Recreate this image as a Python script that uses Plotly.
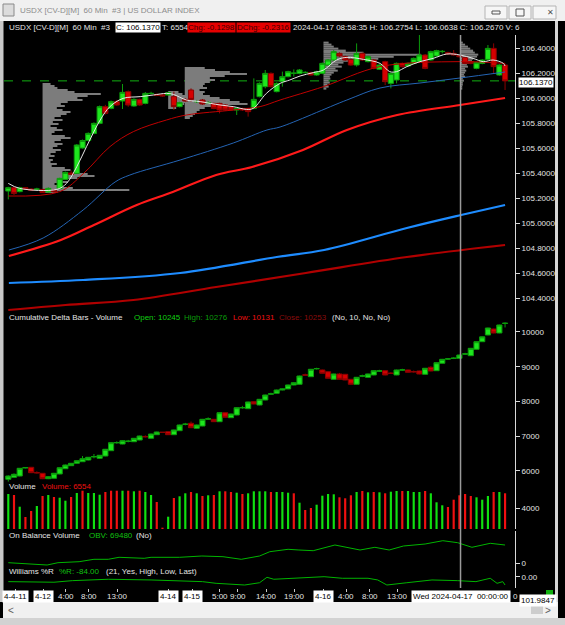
import plotly.graph_objects as go

# ---------------- data ----------------
bars = list(range(88))

price_open = [105.256,105.283,105.251,105.283,105.272,105.268,105.269,105.248,105.262,105.277,
              105.349,105.400,105.397,105.600,105.660,105.717,105.797,105.931,105.917,105.971,
              105.976,106.051,105.936,105.989,105.957,106.035,106.029,106.026,106.024,106.011,
              105.931,105.989,106.064,105.970,105.984,105.962,105.957,105.957,105.944,105.931,
              105.904,105.917,105.917,105.917,106.011,106.091,106.197,106.051,106.131,106.171,
              106.197,106.197,106.203,106.203,106.184,106.197,106.264,106.304,106.357,106.331,
              106.309,106.264,106.357,106.291,106.304,106.230,106.291,106.117,106.144,106.277,
              106.256,106.277,106.291,106.344,106.304,106.336,106.371,106.363,106.357,106.340,
              106.323,106.291,106.237,106.277,106.309,106.397,106.184,106.264]
price_high = [105.290,105.291,105.290,105.288,105.278,105.282,105.272,105.285,105.268,105.362,
              105.412,105.420,105.632,105.668,105.725,105.805,105.940,105.945,105.980,105.985,
              106.112,106.060,105.998,105.995,106.048,106.050,106.036,106.032,106.050,106.051,
              105.970,105.998,106.077,105.985,105.992,105.975,105.962,105.962,105.950,105.936,
              105.925,105.922,105.922,106.157,106.125,106.224,106.205,106.125,106.211,106.218,
              106.229,106.232,106.215,106.210,106.218,106.284,106.312,106.384,106.365,106.338,
              106.315,106.437,106.364,106.338,106.312,106.270,106.298,106.204,106.284,106.284,
              106.284,106.324,106.531,106.352,106.378,106.386,106.384,106.370,106.384,106.346,
              106.330,106.298,106.290,106.311,106.424,106.437,106.271,106.277]
price_low = [105.189,105.224,105.245,105.266,105.258,105.260,105.240,105.245,105.244,105.270,
             105.345,105.383,105.392,105.595,105.655,105.710,105.790,105.868,105.910,105.938,
             105.912,105.930,105.930,105.938,105.950,106.028,106.015,106.010,106.020,105.904,
             105.925,105.970,105.970,105.960,105.945,105.955,105.910,105.877,105.898,105.898,
             105.864,105.896,105.851,105.910,106.005,106.077,106.085,106.045,106.091,106.165,
             106.171,106.190,106.195,106.178,106.178,106.190,106.258,106.298,106.330,106.298,
             106.258,106.251,106.298,106.285,106.230,106.224,106.104,106.077,106.117,106.244,
             106.250,106.270,106.285,106.230,106.298,106.330,106.357,106.345,106.338,106.324,
             106.270,106.270,106.230,106.270,106.302,106.197,106.178,106.064]
price_close = [105.283,105.237,105.283,105.270,105.262,105.272,105.243,105.277,105.250,105.357,
               105.405,105.390,105.624,105.660,105.717,105.797,105.931,105.877,105.971,105.944,
               106.045,105.944,105.989,105.944,106.037,106.037,106.021,106.016,106.043,105.931,
               105.963,105.976,105.989,105.972,105.952,105.963,105.917,105.904,105.904,105.904,
               105.917,105.904,105.891,105.989,106.117,106.197,106.091,106.117,106.171,106.211,
               106.199,106.224,106.205,106.184,106.211,106.277,106.304,106.371,106.336,106.304,
               106.264,106.357,106.304,106.331,106.237,106.264,106.131,106.197,106.277,106.251,
               106.277,106.317,106.344,106.237,106.371,106.379,106.373,106.352,106.344,106.330,
               106.277,106.277,106.283,106.304,106.397,106.251,106.264,106.137]

cd_open = [5755,5812,5850,6080,6101,5950,5928,5772,5784,5908,6060,6147,6216,6262,6311,6400,6360,6426,
           6579,6805,6772,6845,6838,6887,6990,6936,7040,7112,7127,7040,7156,7335,7369,7225,7291,7488,
           7484,7415,7674,7530,7608,7813,7790,7991,7896,8040,8208,8233,8328,8360,8473,8493,8765,8712,
           8938,8905,8856,8637,8790,8781,8637,8493,8728,8694,8761,8872,8885,8814,8761,8901,8905,8860,
           8876,8781,8983,8885,9098,9218,9238,9242,9362,9317,9501,9720,9914,10086,9971,10245]
cd_high = [5870,5925,6080,6100,6110,5985,5935,5845,5940,6100,6180,6225,6300,6426,6398,6484,6455,6630,
           6820,6850,6880,6890,6945,7012,7020,7070,7128,7118,7135,7185,7330,7380,7420,7330,7494,7540,
           7492,7684,7682,7646,7828,7870,7992,8000,8070,8194,8250,8338,8370,8483,8549,8742,8800,8935,
           8970,8915,8866,8800,8820,8790,8645,8704,8770,8800,8895,8910,8893,8840,8915,8940,8913,8890,
           8884,8964,9010,9125,9223,9250,9270,9347,9400,9540,9730,9870,10125,10094,10212,10276]
cd_low = [5690,5800,5840,6070,5935,5920,5760,5760,5775,5900,6050,6140,6205,6255,6300,6360,6350,6418,
          6570,6780,6765,6820,6830,6880,6960,6928,7032,7100,7032,7032,7148,7310,7235,7218,7284,7470,
          7408,7408,7535,7522,7600,7790,7782,7918,7888,8032,8190,8225,8320,8352,8465,8485,8740,8704,
          8920,8802,8658,8629,8629,8609,8485,8485,8700,8686,8753,8850,8753,8790,8753,8880,8831,8830,
          8782,8773,8868,8877,9090,9200,9220,9234,9340,9309,9493,9712,9906,9963,9963,10131]
cd_close = [5850,5899,6072,6095,5945,5940,5772,5830,5928,6089,6167,6216,6291,6349,6389,6410,6447,6620,
            6810,6815,6867,6855,6936,7003,6980,7060,7118,7106,7040,7176,7320,7345,7242,7320,7484,7498,
            7415,7674,7542,7637,7818,7823,7983,7925,8060,8184,8218,8328,8360,8473,8539,8732,8755,8925,
            8946,8810,8666,8790,8637,8617,8493,8694,8736,8790,8885,8880,8761,8806,8905,8909,8839,8852,
            8790,8954,8876,9115,9213,9226,9246,9337,9370,9530,9720,9860,10115,9971,10202,10253]

volume = [6430,6257,4226,2438,3479,4347,6083,6257,5910,5788,5267,5910,6604,7003,6604,6604,6309,6778,
          7003,7003,7003,7003,6899,7003,6778,6257,5042,580,2490,5736,6031,6552,6778,6552,6083,6205,
          6257,6899,6899,6778,6656,6430,6552,6899,6899,6899,6778,6778,6778,6656,6552,4920,3653,4000,
          4573,6135,6430,6378,5858,5684,6205,6778,6951,6726,6778,6726,6552,6830,6951,6951,6951,6778,
          6778,6951,6552,4990,4469,4174,5441,6205,6430,6083,5858,5441,6083,6778,6778,6554]
volume_up = "GRGRRGRGRGGRGRGGGRRRGRGRGGRRGRGGRGRGRGRRGRGGGGRGGGRGRRGGGGRRRGRGRGRGGRGGGRGGGRRRRRGGGRGR"

obv_k = [0,2.3,6.8,8.7,12.4,15,17.5,19.4,23.8,25,30,33.9,37.6,40.8,44,45.8,49,50.9,53.4,57.2,
         59.1,61.6,64.2,66.7,69.2,73,76.1,78.7,81.2,84.4,87]
obv_v = [1158,-1158,-7720,1158,5018,14282,14282,22000,18142,22000,22000,27020,24318,14282,27020,
         43618,52882,50180,47478,69480,60602,50180,60602,50180,65620,73340,86078,78358,60602,76042,69480]

wr_k = [0,8,11.2,17.5,25,34,36.4,41.4,44,45.3,46.5,49,55.3,58.5,63,64.7,66.3,69.8,74.2,78.7,
        81.9,84.4,85.6,86.6,87]
wr_v = [-50,-56,-40,-26,-33,-50,-67,-84,-61,-6,-26,-20,0,-16,-16,-33,-84,-61,-33,-40,-50,-16,-67,-50,-84]

ma_fast_k = [0,2.0,8.5,10.2,12.0,13.7,16.1,17.8,20.1,23.1,25.4,27.7,28.9,31.2,33.6,37.1,39.4,41.7,42.9,
             45.2,47.6,49.3,51.1,53.4,55.2,57.5,59.3,62.2,65.1,66.8,68.0,69.8,72.1,74.4,76.8,79.1,
             81.4,83.2,84.9,86.7,87]
ma_fast_v = [105.317,105.277,105.269,105.317,105.451,105.611,105.824,105.931,105.997,106.011,106.024,
             106.037,106.029,105.984,105.971,105.944,105.931,105.909,105.917,106.037,106.117,106.144,
             106.176,106.203,106.224,106.304,106.325,106.309,106.277,106.211,106.211,106.251,106.291,
             106.317,106.352,106.344,106.317,106.291,106.304,106.277,106.256]
ma_red_thin_k = [0,9,13.2,17.8,21.9,27.7,31.2,39.4,44.1,47.6,55.2,65.1,79.1,87]
ma_red_thin_v = [105.216,105.251,105.397,105.611,105.731,105.824,105.864,105.904,105.931,105.984,
                 106.091,106.251,106.291,106.277]
ma_blue_thin_k = [0.1,6.1,13.1,18.7,21.3,30.1,39.4,45.3,47.6,59.3,65.1,72.1,79.1,87]
ma_blue_thin_v = [104.784,104.88,105.104,105.328,105.384,105.504,105.64,105.744,105.768,105.984,
                  106.08,106.12,106.16,106.208]
ma_red_k = [0.1,9.2,15,22.5,28.8,36.4,42.7,51.6,59.3,68.1,79.1,87]
ma_red_v = [104.736,104.864,104.984,105.144,105.248,105.384,105.448,105.584,105.744,105.864,105.944,106.0]
ma_blue_k = [0.1,13.1,30.1,47,55.3,69.8,79.3,87]
ma_blue_v = [104.52,104.544,104.6,104.728,104.784,104.96,105.064,105.144]
ma_dred_k = [0,10,21.9,36.4,52.1,69.8,87]
ma_dred_v = [104.304,104.344,104.384,104.488,104.6,104.728,104.824]

prof1_base = 6.0
prof1_lvl = [106.112,106.096,106.080,106.064,106.048,106.032,106.016,106.000,105.984,105.968,105.952,
             105.936,105.920,105.904,105.888,105.872,105.856,105.840,105.824,105.808,105.792,105.776,
             105.760,105.744,105.728,105.712,105.696,105.680,105.664,105.648,105.632,105.616,105.600,
             105.584,105.568,105.552,105.536,105.520,105.504,105.488,105.472,105.456,105.440,105.424,
             105.408,105.392,105.376,105.360,105.344,105.328,105.312,105.296,105.280,105.264,105.248]
prof1_len = [1.4,2.1,2.6,4.4,5.6,10.2,7.9,6.1,7.0,4.4,3.2,3.9,2.5,3.5,4.9,4.2,3.2,2.1,3.5,1.8,
             2.8,1.4,2.5,3.5,2.1,1.6,3.9,4.9,3.2,2.1,3.5,2.6,1.8,3.2,2.3,1.4,2.1,1.1,1.8,1.4,
             2.5,1.6,3.9,4.9,3.5,7.9,9.1,6.1,3.2,4.4,2.1,3.5,5.3,15.2,2.6]
prof2b_base = 28.0
prof2b_lvl = [106.048,106.032,106.016,106.000,105.984,105.968,105.952,105.936,105.920]
prof2b_len = [1.8,2.5,3.0,3.0,2.6,3.0,2.8,2.1,1.4]
prof2_base = 30.9
prof2_lvl = [106.240,106.224,106.208,106.192,106.176,106.160,106.144,106.128,106.112,106.096,106.080,
             106.064,106.048,106.032,106.016,106.000,105.984,105.968,105.952,105.936,105.920,105.904,
             105.888,105.872,105.856,105.840]
prof2_len = [3.5,5.3,7.9,10.9,7.0,4.4,5.3,4.4,3.5,3.2,3.9,2.6,3.5,3.2,4.4,6.1,7.9,9.6,11.0,5.3,
             3.5,2.6,2.1,1.8,1.4,0.9]
prof3_base = 55.2
prof34_lvl = [106.443,106.427,106.411,106.395,106.379,106.363,106.347,106.331,106.315,106.299,106.283,
              106.267,106.251,106.235,106.219,106.203,106.187,106.171,106.155,106.139,106.123,106.107,
              106.091,106.075]
prof3_len = [0.9,1.4,1.8,2.6,3.9,7.0,17.0,12.3,9.6,6.1,3.5,2.6,3.2,2.1,2.5,1.8,1.4,1.1,1.2,0.9,
             1.1,0.7,0.9,0.5]
prof4_base = 79.1
prof4_len = [0.5,0.9,1.4,1.8,2.3,2.6,3.2,3.0,2.3,2.1,1.6,1.2,1.4,0.9,1.1,0.9,0.7,0.9,0.5,0.7,
             0.5,0.5,0.4,0.4]

price_ticks = [104.4,104.6,104.8,105.0,105.2,105.4,105.6,105.8,106.0,106.2,106.4]
cd_ticks = [6000,7000,8000,9000,10000]
vol_ticks = [4000]
obv_ticks = [0]
wr_ticks = [0]

time_pos = [1.2,6.1,10.1,14.1,19.1,28.1,32.2,37.0,40.2,45.3,50.2,55.2,59.2,63.3,68.2]
time_txt = ['4-4-11','4-12','4:00','8:00','13:00','4-14','4-15','5:00','9:00','14:00','19:00',
            '4-16','4:00','8:00','13:00']
time_boxed = [1,1,0,0,0,1,1,0,0,0,0,1,0,0,0]
cursor_bar = 79.2
cursor_label = 'Wed 2024-04-17\u00a0\u00a000:00:00'
cursor_price_label = '101.9847'

# ---------------- geometry helpers ----------------
W, H = 565, 625
ML, MR, MT, MB = 4, 50, 35, 37
PW, PH = W - ML - MR, H - MT - MB
def fx(x): return (x - ML) / PW
def fy(y): return (H - MB - y) / PH

FONT = 'Liberation Sans'
GREEN_F, GREEN_L = '#1ee61e', '#0c9c0c'
RED_F, RED_L = '#d60000', '#8c0000'

fig = go.Figure()

# volume profiles
for base, lvl, ln in [(prof1_base, prof1_lvl, prof1_len), (prof2b_base, prof2b_lvl, prof2b_len),
                      (prof2_base, prof2_lvl, prof2_len), (prof3_base, prof34_lvl, prof3_len),
                      (prof4_base, prof34_lvl, prof4_len)]:
    fig.add_trace(go.Bar(orientation='h', y=lvl, x=ln, base=base, width=0.016,
                         marker=dict(color='#7c7c7c', line=dict(width=0)),
                         xaxis='x', yaxis='y', hoverinfo='skip'))

# price candles
fig.add_trace(go.Candlestick(x=bars, open=price_open, high=price_high, low=price_low, close=price_close,
                             xaxis='x', yaxis='y', whiskerwidth=0,
                             increasing=dict(fillcolor=GREEN_F, line=dict(color=GREEN_L, width=1)),
                             decreasing=dict(fillcolor=RED_F, line=dict(color=RED_L, width=1)),
                             hoverinfo='skip'))

# moving averages
for kk, vv, col, w in [(ma_dred_k, ma_dred_v, '#b00000', 2.2), (ma_blue_k, ma_blue_v, '#1e8cff', 2.2),
                       (ma_red_k, ma_red_v, '#ff1a1a', 2.2), (ma_blue_thin_k, ma_blue_thin_v, '#2464b4', 1),
                       (ma_red_thin_k, ma_red_thin_v, '#c00000', 1), (ma_fast_k, ma_fast_v, '#e6e6e6', 1)]:
    fig.add_trace(go.Scatter(x=kk, y=vv, mode='lines', line=dict(color=col, width=w, shape='spline'),
                             xaxis='x', yaxis='y', hoverinfo='skip'))

# cumulative delta candles
fig.add_trace(go.Candlestick(x=bars, open=cd_open, high=cd_high, low=cd_low, close=cd_close,
                             xaxis='x', yaxis='y2', whiskerwidth=0,
                             increasing=dict(fillcolor=GREEN_F, line=dict(color=GREEN_L, width=1)),
                             decreasing=dict(fillcolor=RED_F, line=dict(color=RED_L, width=1)),
                             hoverinfo='skip'))

# volume
fig.add_trace(go.Bar(x=bars, y=volume, width=0.38, xaxis='x', yaxis='y3',
                     marker=dict(color=['#10e010' if c == 'G' else '#f01010' for c in volume_up],
                                 line=dict(width=0)), hoverinfo='skip'))
# OBV
fig.add_trace(go.Scatter(x=obv_k, y=obv_v, mode='lines', line=dict(color='#00b400', width=1),
                         xaxis='x', yaxis='y4', hoverinfo='skip'))
# Williams %R
fig.add_trace(go.Scatter(x=wr_k, y=wr_v, mode='lines', line=dict(color='#00b400', width=1),
                         xaxis='x', yaxis='y5', hoverinfo='skip'))

yax = dict(side='right', anchor='x', showgrid=False, zeroline=False, showline=True, linecolor='#d8d8d8',
           linewidth=1, ticks='outside', ticklen=4, tickcolor='#d8d8d8',
           tickfont=dict(family=FONT, size=8, color='#e4e4e4'), fixedrange=True)

fig.update_layout(
    width=W, height=H, margin=dict(l=ML, r=MR, t=MT, b=MB, pad=0),
    paper_bgcolor='black', plot_bgcolor='black', showlegend=False, barmode='overlay',
    boxgap=0.05, boxgroupgap=0.05,
    hovermode=False, font=dict(family=FONT, size=8, color='#e4e4e4'),
    xaxis=dict(domain=[0, 1], range=[-0.753, 88.74], anchor='y5', showgrid=False, zeroline=False,
               showticklabels=False, ticks='outside', ticklen=3, tickcolor='#c8c8c8',
               tickvals=time_pos, rangeslider=dict(visible=False), showline=False),
    yaxis=dict(domain=[fy(312), 1], range=[104.288, 106.504], tickvals=price_ticks,
               ticktext=['%.4f' % t for t in price_ticks], **yax),
    yaxis2=dict(domain=[fy(482), fy(312)], range=[5677, 10576], tickvals=cd_ticks,
                ticktext=[str(t) for t in cd_ticks], **yax),
    yaxis3=dict(domain=[fy(529), fy(482)], range=[354, 8514], tickvals=vol_ticks,
                ticktext=[str(t) for t in vol_ticks], **yax),
    yaxis4=dict(domain=[fy(568), fy(531)], range=[-19300, 123520], tickvals=obv_ticks,
                ticktext=['0'], **yax),
    yaxis5=dict(domain=[0, fy(568)], range=[-114.4, 88], tickvals=wr_ticks,
                ticktext=['0.00'], **yax),
)

shapes = []
def prect(x0, y0, x1, y1, fill, line=None, lw=0):
    shapes.append(dict(type='rect', xref='paper', yref='paper', x0=fx(x0), x1=fx(x1), y0=fy(y1), y1=fy(y0),
                       fillcolor=fill, line=dict(color=line or fill, width=lw), layer='above'))

# last price dashed line + cursor line
shapes.append(dict(type='line', xref='paper', yref='y', x0=0, x1=1, y0=price_close[-1], y1=price_close[-1],
                   line=dict(color='#12b012', width=1, dash='dash'), layer='below'))
shapes.append(dict(type='line', xref='x', yref='paper', x0=cursor_bar, x1=cursor_bar, y0=0, y1=1,
                   line=dict(color='#9a9a9a', width=1.5), layer='above'))

# window chrome
prect(0, 0, 565, 21, '#f0f0f0')
prect(0, 21, 3.5, 602, '#c8c8c8')
prect(555, 21, 558, 602, '#d6d6d6')
prect(3, 602, 558, 618, '#f0f0f0')
prect(531, 606, 543, 614, '#cdcdcd')
prect(0, 618, 565, 625, '#d2d2d2')
prect(3, 4, 14, 16, '#dcdcdc', '#8a8a8a', 1)
prect(485, 6, 507, 19, '#f6f6f6', '#b4b4b4', 1)
prect(509, 6, 531, 19, '#f6f6f6', '#b4b4b4', 1)
prect(533, 6, 556, 19, '#f6f6f6', '#b4b4b4', 1)
prect(492, 11, 500, 14, 'rgba(0,0,0,0)', '#555555', 1)
prect(516, 9, 524, 16, 'rgba(0,0,0,0)', '#555555', 1)
prect(546, 590, 553, 597, '#10b010')
fig.update_layout(shapes=shapes)

ann = []
def lab(x, y, text, color='#e4e4e4', bg=None, size=8, anchor='left', xref='paper', fam=FONT, pad=1):
    ann.append(dict(x=(fx(x) if xref == 'paper' else x), y=fy(y), xref=xref, yref='paper', text=text,
                    showarrow=False, xanchor=anchor, yanchor='middle',
                    font=dict(family=fam, size=size, color=color),
                    bgcolor=bg if bg else 'rgba(0,0,0,0)', borderpad=pad))

NB = '\u00a0'
lab(18, 11, 'USDX [CV-D][M]' + NB*2 + '60 Min' + NB*2 + '#3 | US DOLLAR INDEX', '#8c8c8c')
lab(544.5, 12.5, '\u2715', '#505050', fam='DejaVu Sans')
lab(7, 27.5, 'USDX [CV-D][M]' + NB*2 + '60 Min' + NB*2 + '#3')
lab(114.5, 27.5, 'C: 106.1370', '#000000', bg='#ffffff', pad=0)
lab(160, 27.5, 'T: 6554')
lab(186.5, 27.5, 'Chg: -0.1298', '#3a0000', bg='#e60000', pad=0)
lab(236, 27.5, 'DChg: -0.2316', '#3a0000', bg='#e60000', pad=0)
lab(291, 27.5, '2024-04-17 08:58:35 H: 106.2754 L: 106.0638 C: 106.2670 V: 6')

lab(7, 318, 'Cumulative Delta Bars - Volume')
lab(132, 318, 'Open: 10245', '#10d010')
lab(182, 318, 'High: 10276', '#0a9a0a')
lab(231, 318, 'Low: 10131', '#ee1010')
lab(277, 318, 'Close: 10253', '#8a0c0c')
lab(330, 318, '(No, 10, No, No)')
lab(7, 486.5, 'Volume')
lab(40, 486.5, 'Volume: 6554', '#ee1010')
lab(7, 535, 'On Balance Volume')
lab(87, 535, 'OBV: 69480', '#10c010')
lab(134, 535, '(No)')
lab(7, 571.5, 'Williams %R')
lab(57, 571.5, '%R: -84.00', '#10c010')
lab(104, 571.5, '(21, Yes, High, Low, Last)')

for p, t, b in zip(time_pos, time_txt, time_boxed):
    lab(p, 596.5, t, '#000000' if b else '#e4e4e4', bg='#ffffff' if b else None, anchor='center', xref='x')
lab(cursor_bar, 596.5, cursor_label, '#000000', bg='#ffffff', anchor='center', xref='x')
lab(511, 596.5, '0')
lab(519, 600, cursor_price_label, '#000000', bg='#ffffff')
ann.append(dict(x=1, y=price_close[-1], xref='paper', yref='y', text='106.1370', showarrow=False,
                xanchor='left', yanchor='middle', xshift=3, yshift=-1.5,
                font=dict(family=FONT, size=8, color='#000000'),
                bgcolor='#ffffff', borderpad=0))
lab(6, 610, '<', '#606060', size=10)
lab(543, 610, '>', '#606060', size=10)
fig.update_layout(annotations=ann)

fig.write_html('out.html')
